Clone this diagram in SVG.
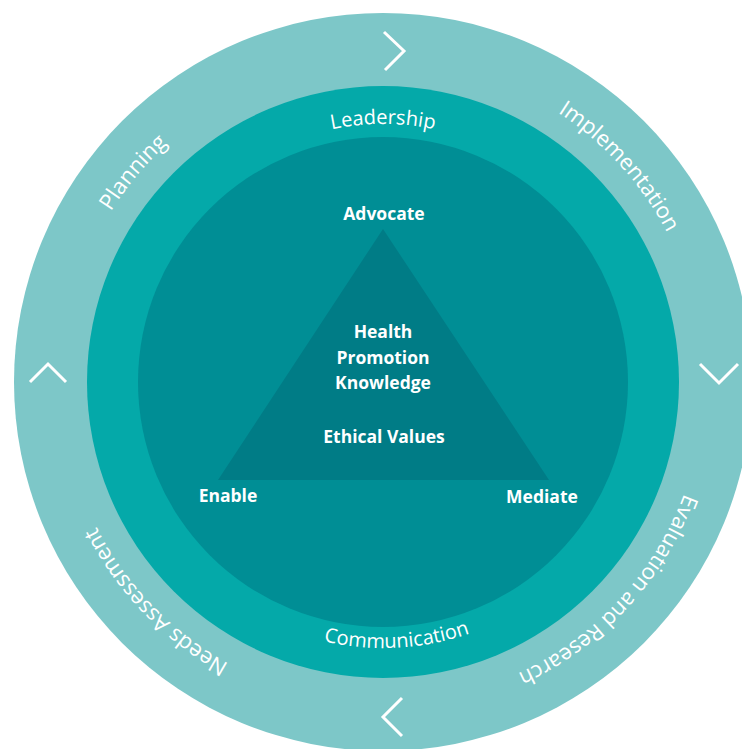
<svg xmlns="http://www.w3.org/2000/svg" xmlns:xlink="http://www.w3.org/1999/xlink" width="742" height="749" viewBox="0 0 742 749">
  <style>
    .ring-outer { fill: #7dc7c8; }
    .ring-mid { fill: #04a9a9; }
    .ring-inner { fill: #008e95; }
    .tri { fill: #007c86; }
    .outer-lbl { font-family: "Open Sans", "Liberation Sans", sans-serif; font-size: 22px; fill: #ffffff; }
    .mid-lbl { font-family: "Open Sans", "Liberation Sans", sans-serif; font-size: 20px; fill: #ffffff; }
    .in-lbl { font-family: "Open Sans", "Liberation Sans", sans-serif; font-size: 17.5px; font-weight: bold; fill: #ffffff; text-anchor: middle; }
    .chev { fill: none; stroke: #ffffff; stroke-width: 3; stroke-linejoin: miter; }
  </style>
  <defs>
    <path id="outerPath" d="M 62,382 A 321 321 0 1 1 704,382 A 321 321 0 1 1 62,382"/>
    <path id="topPath" d="M 125,382 A 258 258 0 0 1 641,382"/>
    <path id="botPath" d="M 117,382 A 266 266 0 0 0 649,382"/>
  </defs>
  <rect width="742" height="749" fill="#ffffff"/>

  <g id="ring-outer">
    <circle class="ring-outer" cx="383" cy="382" r="369"/>
  </g>
  <g id="ring-middle">
    <circle class="ring-mid" cx="383" cy="382" r="296"/>
  </g>
  <g id="ring-inner">
    <circle class="ring-inner" cx="383" cy="382" r="245"/>
  </g>

  <g id="planning">
    <text class="outer-lbl" text-anchor="middle"><textPath href="#outerPath" xlink:href="#outerPath" startOffset="224">Planning</textPath></text>
  </g>
  <g id="implementation">
    <text class="outer-lbl" text-anchor="middle"><textPath href="#outerPath" xlink:href="#outerPath" startOffset="771">Implementation</textPath></text>
  </g>
  <g id="evaluation">
    <text class="outer-lbl" text-anchor="middle"><textPath href="#outerPath" xlink:href="#outerPath" startOffset="1248">Evaluation and Research</textPath></text>
  </g>
  <g id="needs-assessment">
    <text class="outer-lbl" text-anchor="middle"><textPath href="#outerPath" xlink:href="#outerPath" startOffset="1770">Needs Assessment</textPath></text>
  </g>

  <g id="leadership">
    <text class="mid-lbl" text-anchor="middle"><textPath href="#topPath" xlink:href="#topPath" startOffset="50%">Leadership</textPath></text>
  </g>
  <g id="communication">
    <text class="mid-lbl" text-anchor="middle"><textPath href="#botPath" xlink:href="#botPath" startOffset="51.7%">Communication</textPath></text>
  </g>

  <g id="triangle">
    <polygon class="tri" points="383,229 218,480 549,480"/>
    <text class="in-lbl" x="383" y="338">Health</text>
    <text class="in-lbl" x="383" y="364">Promotion</text>
    <text class="in-lbl" x="383" y="389">Knowledge</text>
    <text class="in-lbl" x="384" y="443">Ethical Values</text>
  </g>
  <g id="advocate">
    <text class="in-lbl" x="384" y="220">Advocate</text>
  </g>
  <g id="enable">
    <text class="in-lbl" x="228" y="502">Enable</text>
  </g>
  <g id="mediate">
    <text class="in-lbl" x="542" y="503">Mediate</text>
  </g>

  <g id="connectors">
    <polyline class="chev" points="384,32 404,51 385,70"/>
    <polyline class="chev" points="700,364 719,383 738,364"/>
    <polyline class="chev" points="402,698 383,717 402,736"/>
    <polyline class="chev" points="30,382 48,364 66,382"/>
  </g>
</svg>
